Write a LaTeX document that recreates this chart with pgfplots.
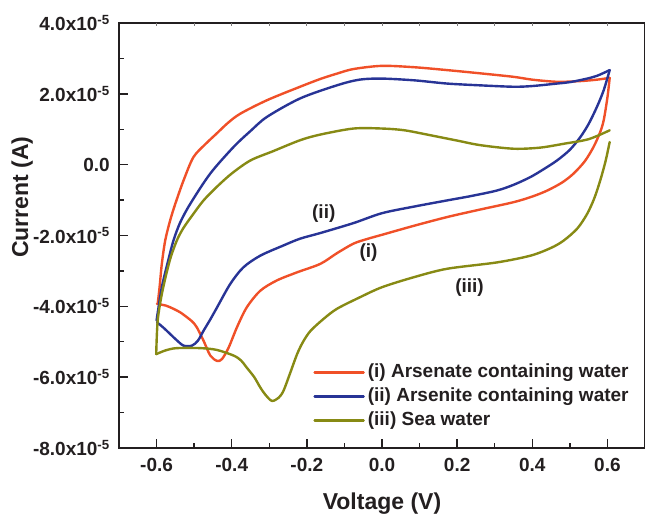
\documentclass[border=0pt]{standalone}
\usepackage{fontspec}
\setmainfont{Liberation Sans}
\usepackage{pgfplots}
\pgfplotsset{compat=1.18}
\definecolor{cred}{RGB}{240,80,40}
\definecolor{cblue}{RGB}{40,52,150}
\definecolor{colive}{RGB}{135,138,20}
\definecolor{ctxt}{RGB}{35,31,32}
\newcommand{\tfont}{\bfseries\fontsize{19}{19}\selectfont}
\newcommand{\lfont}{\bfseries\fontsize{23}{23}\selectfont}
\begin{document}
\begin{tikzpicture}
\begin{axis}[
  name=ax,
  scale only axis, width=526pt, height=425pt,
  xmin=-0.7, xmax=0.7, ymin=-8, ymax=4,
  axis line style={line width=1.6pt, ctxt},
  tick style={line width=1.4pt, ctxt},
  tick pos=left, tick align=inside,
  major tick length=9pt, minor tick length=5pt,
  xtick={-0.6,-0.4,-0.2,0,0.2,0.4,0.6},
  xticklabels={-0.6,-0.4,-0.2,0.0,0.2,0.4,0.6},
  minor x tick num=1,
  ytick={-8,-6,-4,-2,0,2,4},
  yticklabels={-8.0x10\textsuperscript{-5},-6.0x10\textsuperscript{-5},-4.0x10\textsuperscript{-5},-2.0x10\textsuperscript{-5},0.0,2.0x10\textsuperscript{-5},4.0x10\textsuperscript{-5}},
  minor y tick num=1,
  every tick label/.append style={font=\tfont, text=ctxt},
  xticklabel style={anchor=north, inner sep=0pt, yshift=-10pt},
  yticklabel style={anchor=east, inner sep=0pt, xshift=-9pt},
  xlabel={Voltage (V)}, ylabel={Current (A)},
  label style={font=\lfont, text=ctxt},
  xlabel style={at={(axis description cs:0.5,0)}, anchor=north, inner sep=0pt, yshift=-45pt},
  ylabel style={at={(axis description cs:-0.184,0.59)}, anchor=center, inner sep=0pt},
  legend style={draw=none, fill=none, at={(axis cs:-0.183,-6.55)}, anchor=west,
    font=\tfont, text=ctxt, inner sep=0pt, row sep=0pt,
    nodes={text height=14pt, text depth=4pt, inner sep=3pt}},
  legend cell align=left,
  legend image code/.code={\draw[#1] (0pt,0pt) -- (49pt,0pt);},
  every axis plot/.append style={line width=2.4pt, line join=round, line cap=round, smooth, tension=0.5},
]
\addplot[cred] coordinates {
(-0.599,-3.93) (-0.575,-3.98) (-0.555,-4.07) (-0.537,-4.17) (-0.519,-4.31) (-0.505,-4.43)
(-0.493,-4.59) (-0.475,-4.97) (-0.457,-5.39) (-0.439,-5.54) (-0.426,-5.49) (-0.408,-5.16)
(-0.386,-4.59) (-0.36,-4.03) (-0.324,-3.56) (-0.28,-3.27) (-0.226,-3.04)
(-0.164,-2.80) (-0.12,-2.50) (-0.076,-2.23) (-0.04,-2.10) (0.0,-1.98) (0.087,-1.72)
(0.173,-1.48) (0.26,-1.27) (0.35,-1.06) (0.40,-0.90) (0.44,-0.73) (0.48,-0.50)
(0.51,-0.25) (0.54,0.10) (0.563,0.50) (0.58,0.90) (0.59,1.25) (0.60,1.9) (0.606,2.45)
};
\addlegendentry{(i) Arsenate containing water}
\addplot[cred, forget plot] coordinates {
(0.606,2.45) (0.572,2.40) (0.528,2.36) (0.466,2.34) (0.40,2.40) (0.35,2.48) (0.26,2.58) (0.173,2.67)
(0.087,2.75) (0.0,2.79) (-0.076,2.70) (-0.12,2.57) (-0.164,2.42) (-0.218,2.20)
(-0.306,1.82) (-0.377,1.44) (-0.41,1.18) (-0.44,0.88) (-0.47,0.58) (-0.502,0.21)
(-0.528,-0.44) (-0.55,-1.10) (-0.564,-1.58) (-0.577,-2.14) (-0.586,-2.8) (-0.592,-3.46) (-0.597,-3.93)
};
\addplot[cblue] coordinates {
(-0.599,-4.45) (-0.582,-4.60) (-0.564,-4.78) (-0.546,-4.96) (-0.528,-5.11) (-0.506,-5.11)
(-0.49,-4.97) (-0.475,-4.69) (-0.457,-4.37) (-0.439,-4.03) (-0.404,-3.37) (-0.369,-2.90)
(-0.324,-2.57) (-0.262,-2.28) (-0.218,-2.09) (-0.164,-1.93) (-0.076,-1.65)
(0.0,-1.37) (0.087,-1.18) (0.173,-1.01) (0.24,-0.88) (0.306,-0.73) (0.35,-0.57)
(0.395,-0.35) (0.43,-0.13) (0.466,0.12) (0.50,0.42) (0.528,0.78) (0.55,1.15)
(0.572,1.63) (0.59,2.10) (0.606,2.67)
};
\addlegendentry{(ii) Arsenite containing water}
\addplot[cblue, forget plot] coordinates {
(0.606,2.67) (0.575,2.52) (0.546,2.43) (0.50,2.33) (0.466,2.29) (0.40,2.22) (0.35,2.20) (0.26,2.24)
(0.173,2.29) (0.087,2.38) (0.0,2.43) (-0.06,2.40) (-0.12,2.24) (-0.218,1.87)
(-0.306,1.35) (-0.35,0.95) (-0.395,0.50) (-0.457,-0.25) (-0.51,-1.10)
(-0.537,-1.63) (-0.555,-2.14) (-0.57,-2.75) (-0.586,-3.46) (-0.6,-4.40)
};
\addplot[colive] coordinates {
(0.606,0.97) (0.55,0.72) (0.484,0.59) (0.42,0.48) (0.35,0.45) (0.262,0.55) (0.20,0.68)
(0.129,0.83) (0.06,0.97) (0.0,1.02) (-0.076,1.02) (-0.164,0.85) (-0.218,0.69) (-0.29,0.38)
(-0.35,0.12) (-0.40,-0.25) (-0.44,-0.63) (-0.475,-1.01) (-0.502,-1.39) (-0.528,-1.78)
(-0.546,-2.14) (-0.565,-2.71) (-0.585,-3.60) (-0.597,-4.40) (-0.601,-5.35)
};
\addlegendentry{(iii) Sea water}
\addplot[colive, forget plot] coordinates {
(-0.601,-5.35)
(-0.575,-5.24) (-0.546,-5.18) (-0.484,-5.18) (-0.44,-5.23) (-0.395,-5.39) (-0.375,-5.53) (-0.36,-5.73)
(-0.34,-6.00) (-0.324,-6.29) (-0.31,-6.50) (-0.293,-6.67) (-0.275,-6.58) (-0.262,-6.38)
(-0.245,-5.90) (-0.226,-5.35) (-0.21,-5.00) (-0.19,-4.69) (-0.155,-4.35) (-0.12,-4.07)
(-0.06,-3.75) (0.0,-3.46) (0.084,-3.18) (0.173,-2.94) (0.306,-2.76) (0.395,-2.57)
(0.45,-2.35) (0.484,-2.14) (0.52,-1.80) (0.546,-1.39) (0.565,-0.95) (0.581,-0.44)
(0.595,0.10) (0.606,0.64)
};
\node[font=\tfont, text=ctxt] at (axis cs:-0.155,-1.38) {(ii)};
\node[font=\tfont, text=ctxt] at (axis cs:-0.036,-2.47) {(i)};
\node[font=\tfont, text=ctxt] at (axis cs:0.233,-3.46) {(iii)};
\end{axis}
\begin{axis}[
  scale only axis, width=526pt, height=425pt,
  xmin=-0.7, xmax=0.7, ymin=-8, ymax=4,
  hide y axis, axis x line*=top,
  axis line style={draw=none},
  xtick={-0.6,-0.5,-0.4,-0.3,-0.2,-0.1,0,0.1,0.2,0.3,0.4,0.5,0.6},
  xticklabels={}, major tick length=3pt, tick align=inside,
  tick style={line width=0.8pt, ctxt!60},
]
\end{axis}
\pgfresetboundingbox
\path (-119pt,-71pt) rectangle (526pt,448pt);
\end{tikzpicture}
\end{document}
